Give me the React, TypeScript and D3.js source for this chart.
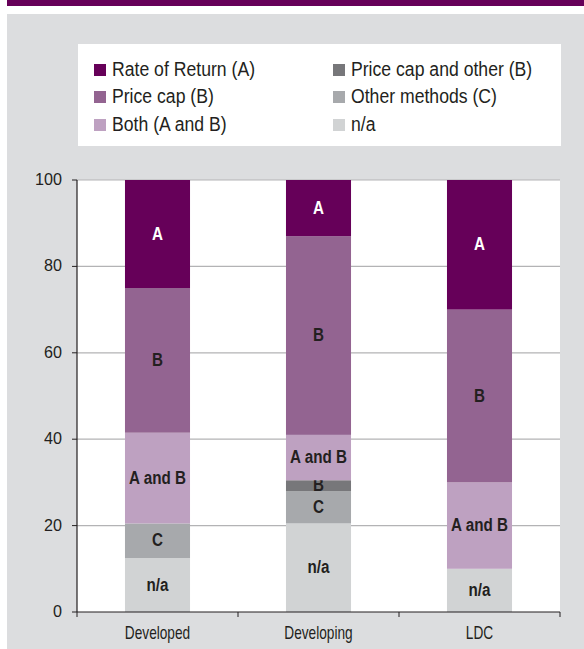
import React from 'react';
import * as d3 from 'd3';

const categories = ['Developed', 'Developing', 'LDC'];
const naValues = [12.5, 20.5, 10];
const otherMethodsValues = [8, 7.5, 0];
const priceCapOtherValues = [0, 2.5, 0];
const bothValues = [21, 10.5, 20];
const priceCapValues = [33.5, 46, 40];
const rateOfReturnValues = [25, 13, 30];
const yTicks = [0, 20, 40, 60, 80, 100];

const seriesKeys = ['na', 'C', 'PCO', 'AB', 'B', 'A'];
const seriesLabels = ['n/a', 'C', 'B', 'A and B', 'B', 'A'];
const seriesColors = ['#d1d3d4', '#a7a9ac', '#77777a', '#bea1c1', '#936491', '#660059'];
const labelColors = ['#231f20', '#231f20', '#231f20', '#231f20', '#231f20', '#ffffff'];

const legendNames = [
  'Rate of Return (A)', 'Price cap and other (B)',
  'Price cap (B)', 'Other methods (C)',
  'Both (A and B)', 'n/a',
];
const legendKeys = ['A', 'PCO', 'B', 'C', 'AB', 'na'];

const FONT = '"Liberation Sans", Arial, sans-serif';

function CText(props: {
  x: number; y: number; sx: number; size: number; anchor?: string; bold?: boolean; fill?: string; children: any;
}) {
  const { x, y, sx, size, anchor = 'start', bold, fill = '#231f20', children } = props;
  return (
    <text transform={`translate(${x},${y}) scale(${sx},1)`} dy="0.35em" textAnchor={anchor}
      fontFamily={FONT} fontSize={size} fontWeight={bold ? 'bold' : 'normal'} fill={fill}>
      {children}
    </text>
  );
}

export default function App() {
  const W = 584, H = 649;
  const plot = { left: 77, right: 560, top: 180, bottom: 612 };

  const table = categories.map((c, i) => ({
    cat: c,
    na: naValues[i],
    C: otherMethodsValues[i],
    PCO: priceCapOtherValues[i],
    AB: bothValues[i],
    B: priceCapValues[i],
    A: rateOfReturnValues[i],
  }));
  const stacked = d3.stack<any>().keys(seriesKeys)(table);

  const x = d3.scaleBand<string>().domain(categories).range([plot.left, plot.right]).padding(0);
  const y = d3.scaleLinear().domain([0, 100]).range([plot.bottom, plot.top]);
  const barW = x.bandwidth() * 0.404;

  const legendCol = [94, 333];
  const legendRow = [70, 97, 125];

  return (
    <svg width={W} height={H} style={{ position: 'absolute', left: 0, top: 0, display: 'block' }}>
      <rect x={7} y={0} width={W - 7} height={6} fill="#660059" />
      <rect x={7} y={14} width={W - 7} height={H - 14} fill="#dcdddf" />
      <rect x={78} y={44} width={483} height={102} fill="#ffffff" />
      {legendKeys.map((k, i) => {
        const col = i % 2, row = Math.floor(i / 2);
        const si = seriesKeys.indexOf(k);
        return (
          <g key={k}>
            <rect x={legendCol[col]} y={legendRow[row] - 6} width={12} height={12} fill={seriesColors[si]} />
            <CText x={legendCol[col] + 18} y={legendRow[row] - 1} sx={0.84} size={21}>
              {legendNames[i]}
            </CText>
          </g>
        );
      })}
      <rect x={plot.left} y={plot.top} width={plot.right - plot.left} height={plot.bottom - plot.top} fill="#ffffff" />
      {yTicks.filter(t => t > 0).map(t => (
        <line key={t} x1={plot.left} x2={plot.right} y1={y(t)} y2={y(t)} stroke="#b3b3b5" strokeWidth={1.2} />
      ))}
      {stacked.map((s, si) => (
        <g key={s.key}>
          {s.map((d, i) => {
            const h = y(d[0]) - y(d[1]);
            if (h <= 0) return null;
            const cx = (x(categories[i]) as number) + x.bandwidth() / 2;
            return (
              <g key={i}>
                <rect x={cx - barW / 2} y={y(d[1])} width={barW} height={h} fill={seriesColors[si]} />
                <CText x={cx} y={(y(d[0]) + y(d[1])) / 2 - 1} sx={0.8} size={19} anchor="middle" bold
                  fill={labelColors[si]}>
                  {seriesLabels[si]}
                </CText>
              </g>
            );
          })}
        </g>
      ))}
      <line x1={plot.left} x2={plot.left} y1={plot.top} y2={plot.bottom} stroke="#231f20" strokeWidth={1.2} />
      <line x1={plot.left} x2={plot.right} y1={plot.bottom} y2={plot.bottom} stroke="#231f20" strokeWidth={1.2} />
      {yTicks.map(t => (
        <g key={t}>
          <line x1={plot.left - 5} x2={plot.left} y1={y(t)} y2={y(t)} stroke="#231f20" strokeWidth={1} />
          <CText x={plot.left - 15} y={y(t) - 1} sx={0.95} size={17} anchor="end">
            {t}
          </CText>
        </g>
      ))}
      {[...categories.map(c => x(c) as number), plot.right].map((b, i) => (
        <line key={i} x1={b} x2={b} y1={plot.bottom} y2={plot.bottom + 5} stroke="#231f20" strokeWidth={1} />
      ))}
      {categories.map(c => (
        <CText key={c} x={(x(c) as number) + x.bandwidth() / 2} y={633} sx={0.76} size={18} anchor="middle">
          {c}
        </CText>
      ))}
    </svg>
  );
}
